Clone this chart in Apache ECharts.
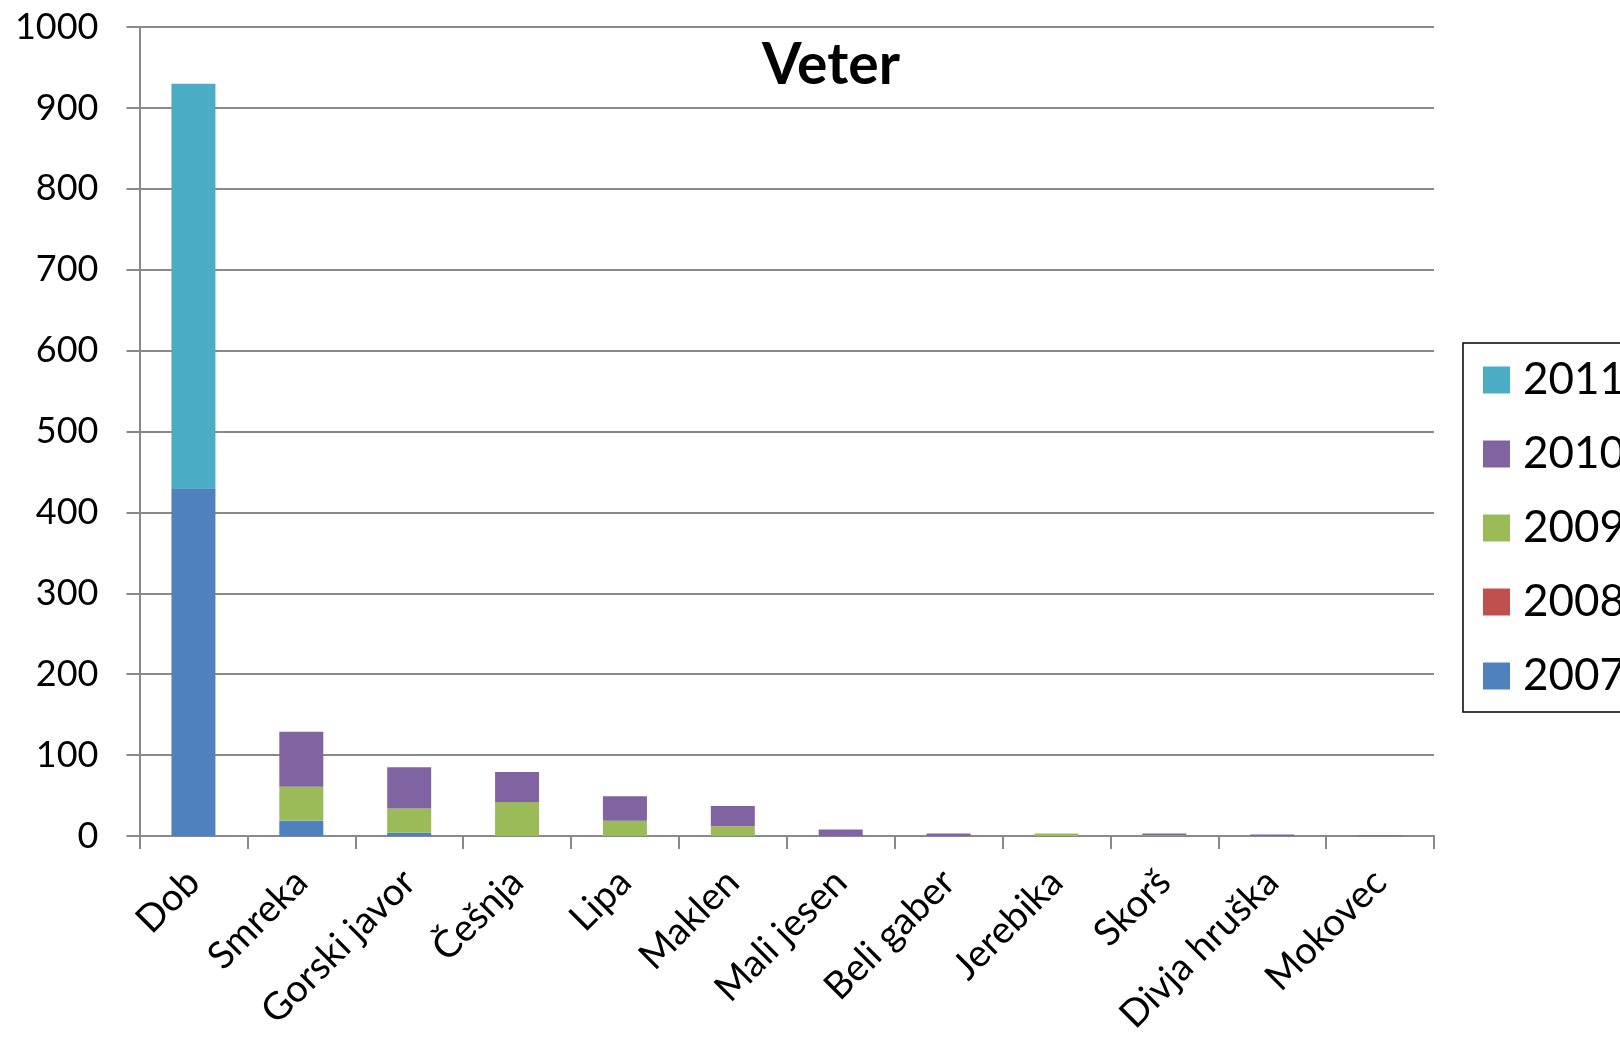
<!DOCTYPE html>
<html>
<head>
<meta charset="utf-8">
<title>Veter</title>
<script src="https://cdn.jsdelivr.net/npm/echarts@6/dist/echarts.min.js"></script>
<style>
  html, body { margin: 0; padding: 0; background: #ffffff; }
  #chart { width: 1620px; height: 1040px; }
</style>
</head>
<body>
<div id="chart"></div>
<script>
// Tree species damaged by wind, stacked by year
const categories = ['Dob', 'Smreka', 'Gorski javor', 'Češnja', 'Lipa', 'Maklen',
  'Mali jesen', 'Beli gaber', 'Jerebika', 'Skorš', 'Divja hruška', 'Mokovec'];

const v2007 = [430, 19, 4, 0, 0, 0, 0, 0, 0, 0, 0, 0];
const v2008 = [0, 0, 0, 0, 0, 0, 0, 0, 0, 0, 0, 0];
const v2009 = [0, 42, 30, 42, 19, 12, 0, 0, 3, 1, 0, 0];
const v2010 = [0, 68, 51, 37, 30, 25, 8, 3, 0, 2, 2, 1];
const v2011 = [500, 0, 0, 0, 0, 0, 0, 0, 0, 0, 0, 0];

const years = ['2007', '2008', '2009', '2010', '2011'];
const yearValues = [v2007, v2008, v2009, v2010, v2011];
const yearColors = ['#4F81BD', '#C0504D', '#9BBB59', '#8064A2', '#4BACC6'];

const FONT = 'Lato, "Noto Sans", sans-serif';
const GRID_GREY = '#898989';

const chart = echarts.init(document.getElementById('chart'), null, { renderer: 'canvas' });

chart.setOption({
  animation: false,
  backgroundColor: '#ffffff',
  title: {
    text: 'Veter',
    left: 826,
    top: 32,
    textAlign: 'center',
    textStyle: { fontFamily: FONT, fontWeight: 'bold', fontSize: 57, color: '#000' }
  },
  legend: {
    orient: 'vertical',
    left: 1463,
    top: 343,
    data: years.slice().reverse(),
    itemWidth: 27,
    itemHeight: 27,
    itemGap: 30,
    padding: [15, 20, 14, 20],
    borderColor: '#000',
    borderWidth: 1.5,
    icon: 'rect',
    textStyle: { fontFamily: FONT, fontSize: 44, color: '#000', padding: [0, 0, 0, 8] }
  },
  grid: { left: 139.5, right: 186, top: 27, bottom: 204, containLabel: false },
  xAxis: {
    type: 'category',
    data: categories,
    axisLine: { lineStyle: { color: GRID_GREY, width: 2 } },
    axisTick: { show: true, length: 13, lineStyle: { color: GRID_GREY, width: 2 } },
    axisLabel: {
      interval: 0,
      rotate: 45,
      margin: 40,
      fontFamily: FONT,
      fontSize: 38,
      color: '#000'
    }
  },
  yAxis: {
    type: 'value',
    min: 0,
    max: 1000,
    interval: 100,
    axisLine: { show: true, lineStyle: { color: GRID_GREY, width: 2 } },
    axisTick: { show: true, length: 13, lineStyle: { color: GRID_GREY, width: 2 } },
    splitLine: { lineStyle: { color: GRID_GREY, width: 2 } },
    axisLabel: {
      margin: 41,
      fontFamily: FONT,
      fontSize: 36,
      color: '#000',
      formatter: (v) => String(v)
    }
  },
  series: years.map((y, i) => ({
    name: y,
    type: 'bar',
    stack: 'total',
    barWidth: 44,
    data: yearValues[i],
    itemStyle: { color: yearColors[i] }
  }))
});
</script>
</body>
</html>
